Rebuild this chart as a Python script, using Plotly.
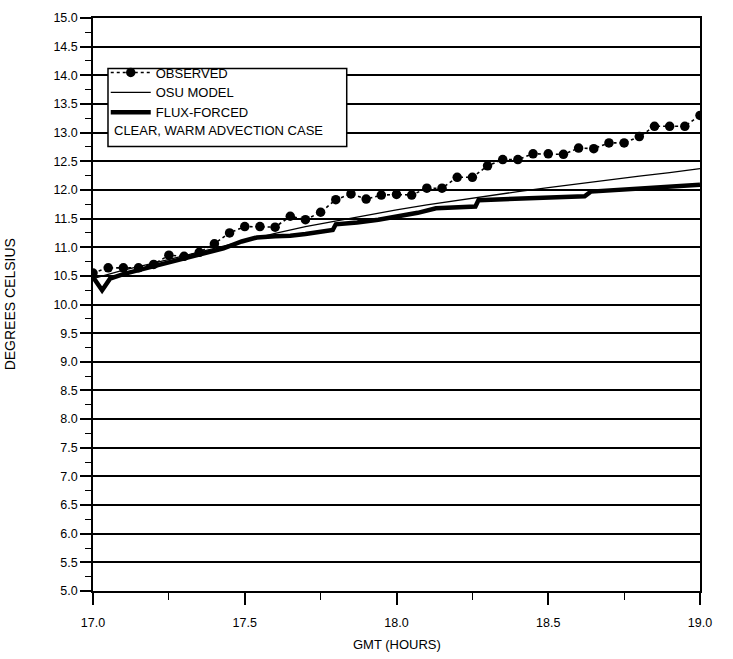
import plotly.graph_objects as go

# ---- data ----
obs_t = [17.00, 17.05, 17.10, 17.15, 17.20, 17.25, 17.30, 17.35, 17.40, 17.45,
         17.50, 17.55, 17.60, 17.65, 17.70, 17.75, 17.80, 17.85, 17.90, 17.95,
         18.00, 18.05, 18.10, 18.15, 18.20, 18.25, 18.30, 18.35, 18.40, 18.45,
         18.50, 18.55, 18.60, 18.65, 18.70, 18.75, 18.80, 18.85, 18.90, 18.95, 19.00]
obs_v = [10.55, 10.64, 10.64, 10.64, 10.70, 10.86, 10.84, 10.91, 11.06, 11.25,
         11.36, 11.36, 11.35, 11.54, 11.48, 11.61, 11.83, 11.93, 11.84, 11.91,
         11.92, 11.91, 12.03, 12.03, 12.22, 12.22, 12.42, 12.53, 12.53, 12.63,
         12.63, 12.62, 12.73, 12.72, 12.82, 12.82, 12.93, 13.11, 13.11, 13.11, 13.30]

osu_t = [17.00, 17.05, 17.10, 17.20, 17.30, 17.40, 17.50, 17.60, 17.70, 17.80,
         17.90, 18.00, 18.10, 18.20, 18.30, 18.40, 18.50, 18.60, 18.70, 18.80,
         18.90, 19.00]
osu_v = [10.45, 10.52, 10.60, 10.72, 10.85, 10.98, 11.12, 11.24, 11.36, 11.46,
         11.56, 11.65, 11.74, 11.82, 11.90, 11.97, 12.04, 12.11, 12.17, 12.24,
         12.30, 12.37]

flux_t = [17.00, 17.03, 17.056, 17.10, 17.15, 17.21, 17.27, 17.32, 17.38, 17.43,
          17.49, 17.54, 17.60, 17.65, 17.70, 17.76, 17.79, 17.80, 17.87, 17.94,
          18.01, 18.07, 18.13, 18.20, 18.26, 18.27, 18.33, 18.40, 18.47, 18.54,
          18.62, 18.64, 18.70, 18.78, 18.86, 18.94, 19.00]
flux_v = [10.48, 10.25, 10.45, 10.53, 10.60, 10.68, 10.76, 10.83, 10.90, 10.98,
          11.10, 11.17, 11.19, 11.20, 11.23, 11.28, 11.30, 11.40, 11.43, 11.48,
          11.54, 11.60, 11.68, 11.70, 11.71, 11.82, 11.83, 11.84, 11.85, 11.87,
          11.89, 11.97, 11.99, 12.02, 12.04, 12.06, 12.09]

y_ticks = [5.0, 5.5, 6.0, 6.5, 7.0, 7.5, 8.0, 8.5, 9.0, 9.5, 10.0, 10.5,
           11.0, 11.5, 12.0, 12.5, 13.0, 13.5, 14.0, 14.5, 15.0]
x_ticks = [17.0, 17.5, 18.0, 18.5, 19.0]

FONT = "Liberation Sans, Arial, sans-serif"

fig = go.Figure()
fig.add_trace(go.Scatter(
    x=obs_t, y=obs_v, mode="lines+markers", name="OBSERVED",
    line=dict(color="black", width=1.6, dash="3px,3px"),
    marker=dict(symbol="circle", size=9.5, color="black")))
fig.add_trace(go.Scatter(
    x=osu_t, y=osu_v, mode="lines", name="OSU MODEL",
    line=dict(color="black", width=1.3)))
fig.add_trace(go.Scatter(
    x=flux_t, y=flux_v, mode="lines", name="FLUX-FORCED",
    line=dict(color="black", width=4.5)))

fig.update_layout(
    width=733, height=659,
    margin=dict(l=93, r=33, t=11, b=68),
    paper_bgcolor="white", plot_bgcolor="white",
    font=dict(family=FONT, size=12, color="black"),
    showlegend=True,
    legend=dict(
        x=0.021, y=0.931, xanchor="left", yanchor="top",
        bgcolor="rgba(0,0,0,0)", borderwidth=0,
        font=dict(family=FONT, size=13, color="black"),
        tracegroupgap=0, itemwidth=40,
    ),
    xaxis=dict(
        range=[17.0, 19.0], tickvals=x_ticks, tickformat=".1f",
        showgrid=False, zeroline=False,
        showline=True, linecolor="black", linewidth=1.5, mirror=True,
        ticks="outside", ticklen=12, tickwidth=1.5, tickcolor="black",
        ticklabelstandoff=7,
        minor=dict(dtick=0.25, ticks="outside", ticklen=7, tickwidth=1.2,
                   tickcolor="black", showgrid=False),
        tickfont=dict(size=12.5),
    ),
    yaxis=dict(
        range=[5.0, 15.0], tickvals=y_ticks, tickformat=".1f",
        showgrid=True, gridcolor="black", gridwidth=2,
        zeroline=False,
        showline=True, linecolor="black", linewidth=1.5, mirror=True,
        ticks="outside", ticklen=11, tickwidth=1.5, tickcolor="black",
        minor=dict(dtick=0.25, ticks="outside", ticklen=6, tickwidth=1.2,
                   tickcolor="black", showgrid=False),
        tickfont=dict(size=12.5),
    ),
    shapes=[dict(
        type="rect", xref="paper", yref="paper", layer="above",
        x0=0.0247, x1=0.418, y0=0.7759, y1=0.912,
        line=dict(color="black", width=1.5), fillcolor="white")],
    annotations=[
        dict(text="CLEAR, WARM ADVECTION CASE", xref="paper", yref="paper",
             x=0.031, y=0.803, xanchor="left", yanchor="middle",
             showarrow=False, font=dict(family=FONT, size=13, color="black")),
        dict(text="GMT (HOURS)", xref="paper", yref="paper",
             x=0.5, y=-0.093, xanchor="center", yanchor="middle",
             showarrow=False, font=dict(family=FONT, size=13, color="black")),
        dict(text="DEGREES CELSIUS", xref="paper", yref="paper",
             x=-0.137, y=0.5, xanchor="center", yanchor="middle",
             textangle=-90, showarrow=False,
             font=dict(family=FONT, size=14, color="black")),
    ],
)

fig.write_html("out.html")
